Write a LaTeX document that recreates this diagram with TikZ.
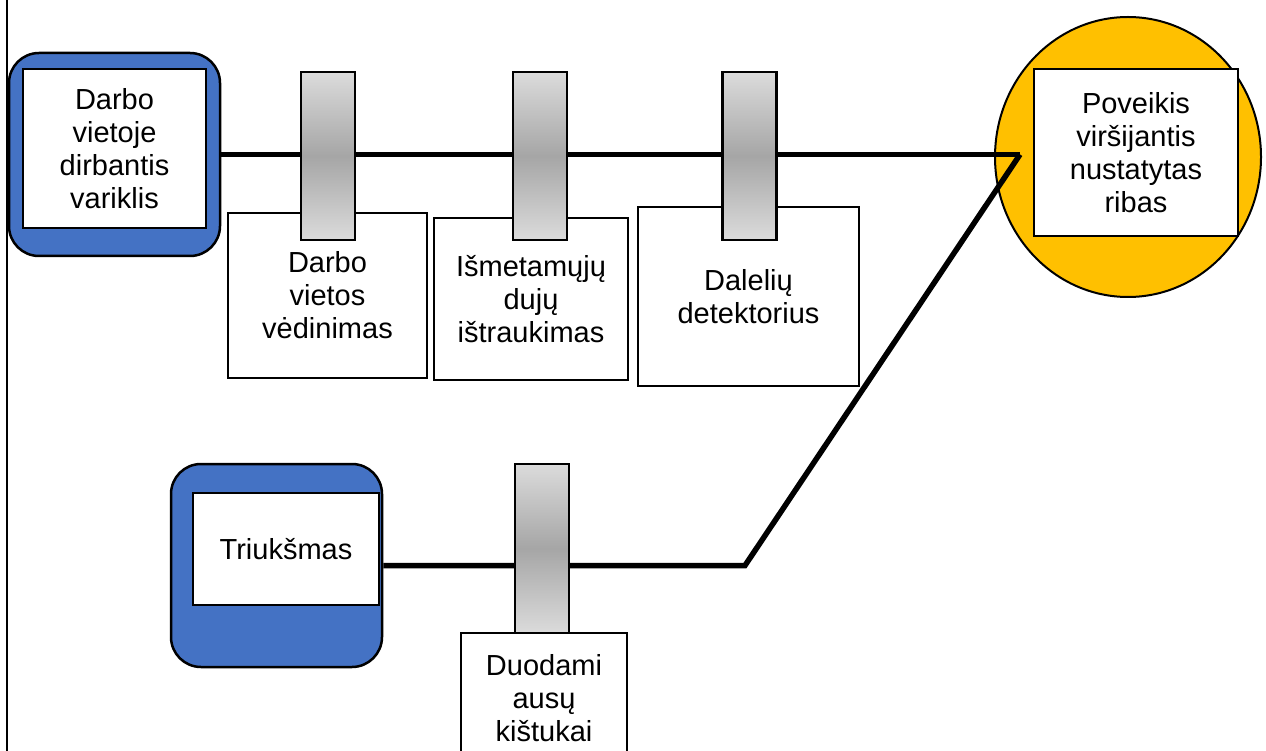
\documentclass[tikz,border=0pt]{standalone}
\usepackage{fontspec}
\setmainfont{Liberation Sans}
\usetikzlibrary{shapes.geometric, positioning}
\definecolor{engineblue}{HTML}{4472C4}
\definecolor{limitgold}{HTML}{FFC000}

\begin{document}
\begin{tikzpicture}[
    x=1pt, y=-1pt,
    link/.style={draw=black, line width=5.5pt},
    % source nodes (blue frames)
    src_node/.style={rectangle, rounded corners=30pt, draw=black, fill=engineblue, line width=2.5pt, minimum width=211pt, minimum height=203pt},
    % white text boxes
    label_node/.style={rectangle, draw=black, fill=white, line width=2.2pt, align=center, inner sep=0pt, font=\fontsize{29}{33}\selectfont},
    % control measures (grey plugs)
    plug_node/.style={rectangle, draw=black, line width=2.6pt, top color=gray!28, bottom color=gray!28, middle color=gray!70, minimum width=54pt, minimum height=168pt, inner sep=0pt},
    limit_node/.style={ellipse, draw=black, fill=limitgold, line width=2pt, minimum width=266pt, minimum height=280pt, inner sep=0pt}
]
    \useasboundingbox (0,0) rectangle (1266,751);
    \draw[line width=1.5pt] (7,0) -- (7,751);

    % =========================================================================
    % SOURCES & TARGET
    % =========================================================================
    \node [src_node] (engine) at (114.5,154.5) {};
    \node [label_node, minimum width=183pt, minimum height=159pt] (engine_txt) at (114.5,148.5) {Darbo\\vietoje\\dirbantis\\variklis};

    \node [src_node] (noise) at (276.5,565.5) {};
    \node [label_node, minimum width=186pt, minimum height=112pt] (noise_txt) at (286,549) {Triukšmas};

    \node [limit_node] (limit) at (1128,157) {};
    \node [label_node, minimum width=204pt, minimum height=167pt] (limit_txt) at (1136,152.5) {Poveikis\\viršijantis\\nustatytas\\ribas};

    % =========================================================================
    % MEASURES
    % =========================================================================
    \node [label_node, minimum width=199pt, minimum height=165pt] (vent) at (327.5,295.5) {Darbo\\vietos\\vėdinimas};
    \node [label_node, minimum width=194pt, minimum height=162pt] (exhaust) at (531,299) {Išmetamųjų\\dujų\\ištraukimas};
    \node [label_node, minimum width=221pt, minimum height=179pt] (detector) at (748.5,296.5) {Dalelių\\detektorius};
    \node [label_node, minimum width=166pt, minimum height=130pt] (earplug) at (544,698) {Duodami\\ausų\\kištukai};

    % Paths towards the exposure limit
    \coordinate (merge) at (1020,154.5);
    \coordinate (bend) at (745,565.5);
    \draw [link] (engine.east) -- (merge);
    \draw [link] (noise.east) -- (bend) -- (merge);

    % Plugs over the paths
    \node [plug_node] (plug_vent) at (328,156) {};
    \node [plug_node] (plug_exhaust) at (540,156) {};
    \node [plug_node] (plug_detector) at (749.5,156) {};
    \node [plug_node, minimum height=169pt] (plug_ear) at (542,548.5) {};
\end{tikzpicture}
\end{document}
